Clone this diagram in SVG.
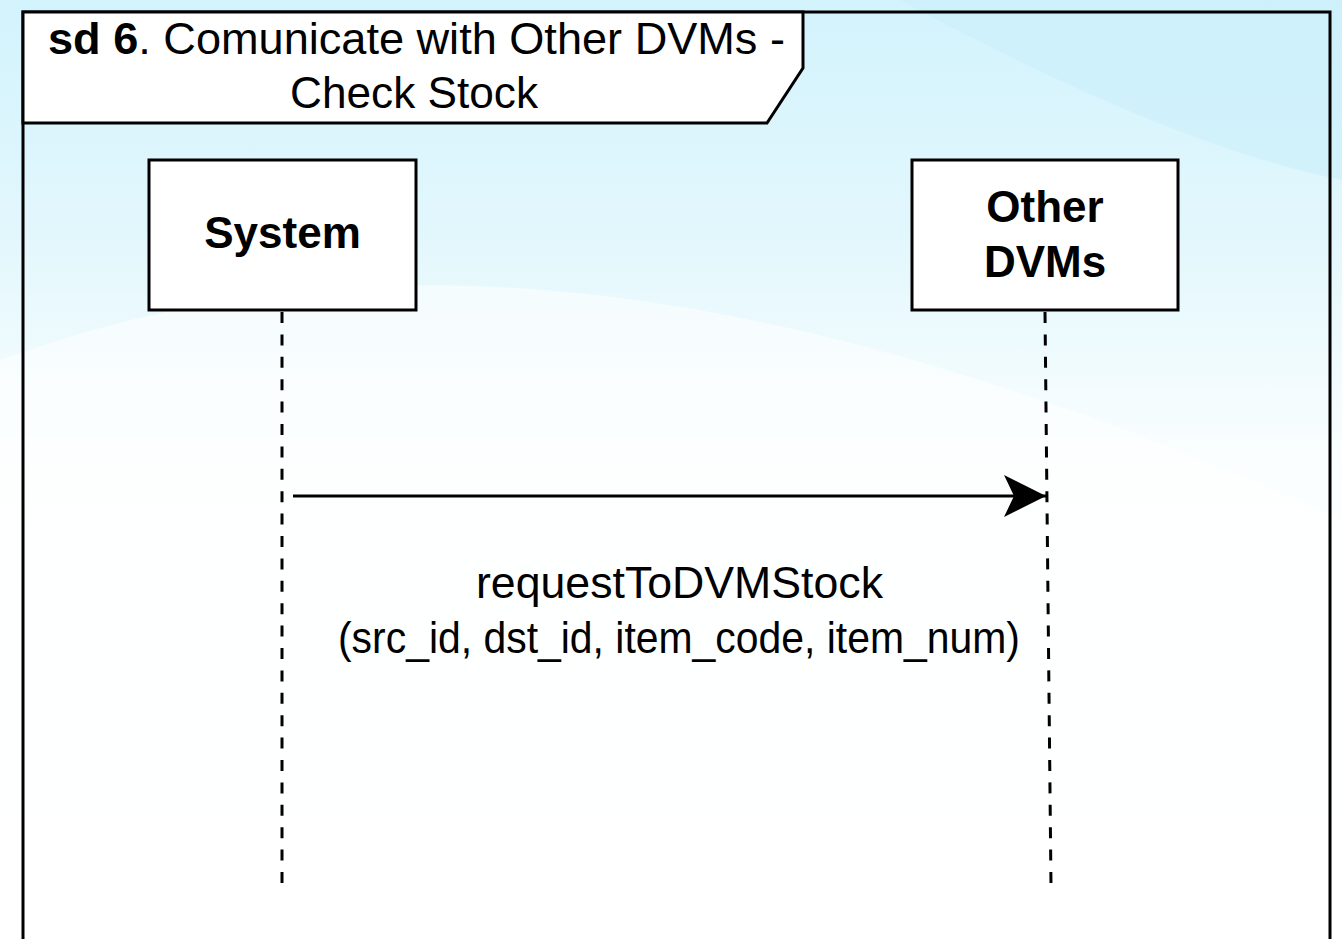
<svg xmlns="http://www.w3.org/2000/svg" width="1342" height="939" viewBox="0 0 1342 939">
  <defs>
    <linearGradient id="bg" x1="0" y1="0" x2="0" y2="1">
      <stop offset="0" stop-color="#d3f3fc"/>
      <stop offset="0.25" stop-color="#e2f7fc"/>
      <stop offset="0.5" stop-color="#fbfeff"/>
      <stop offset="1" stop-color="#ffffff"/>
    </linearGradient>
    <marker id="arrow" viewBox="0 0 44 42" refX="42" refY="21" markerWidth="44" markerHeight="42" markerUnits="userSpaceOnUse" orient="auto">
      <path d="M0,0 L42,21 L0,42 L10,21 Z" fill="#000"/>
    </marker>
    <style>
      .box { fill: #ffffff; stroke: #000; stroke-width: 3; }
      .frame { fill: none; stroke: #000; stroke-width: 3; }
      .life { stroke: #000; stroke-width: 3; stroke-dasharray: 11 11.4; fill: none; }
      .msg { stroke: #000; stroke-width: 3; fill: none; }
      .t { font-family: "Liberation Sans", Arial, Helvetica, sans-serif; font-size: 44px; fill: #000; text-anchor: middle; }
      .b { font-weight: bold; }
    </style>
  </defs>

  <rect x="0" y="0" width="1342" height="939" fill="url(#bg)"/>
  <path d="M0,360 C300,250 700,230 1342,520 L1342,939 L0,939 Z" fill="#ffffff" opacity="0.55"/>
  <path d="M900,0 C1050,80 1200,150 1342,180 L1342,0 Z" fill="#c9eefa" opacity="0.6"/>

  <g id="frame">
    <rect x="23" y="12" width="1307" height="940" class="frame"/>
    <path d="M23,12 L803,12 L803,68 L767,123 L23,123 Z" class="box"/>
    <text class="t" x="416.5" y="54" textLength="737" lengthAdjust="spacingAndGlyphs"><tspan class="b">sd 6</tspan>. Comunicate with Other DVMs -</text>
    <text class="t" x="414" y="108" textLength="248" lengthAdjust="spacingAndGlyphs">Check Stock</text>
  </g>

  <g id="system">
    <rect x="149" y="160" width="267" height="150" class="box"/>
    <text class="t b" x="282.5" y="248">System</text>
  </g>

  <g id="other-dvms">
    <rect x="912" y="160" width="266" height="150" class="box"/>
    <text class="t b" x="1045" y="222">Other</text>
    <text class="t b" x="1045" y="277">DVMs</text>
  </g>

  <g id="connectors">
    <line x1="282" y1="312" x2="282" y2="884" class="life"/>
    <line x1="1045" y1="312" x2="1051" y2="886" class="life"/>
    <line x1="293" y1="496" x2="1046" y2="496" class="msg" marker-end="url(#arrow)"/>
    <text class="t" x="679.5" y="598" textLength="407" lengthAdjust="spacingAndGlyphs">requestToDVMStock</text>
    <text class="t" x="679" y="653" textLength="682" lengthAdjust="spacingAndGlyphs">(src_id, dst_id, item_code, item_num)</text>
  </g>
</svg>
